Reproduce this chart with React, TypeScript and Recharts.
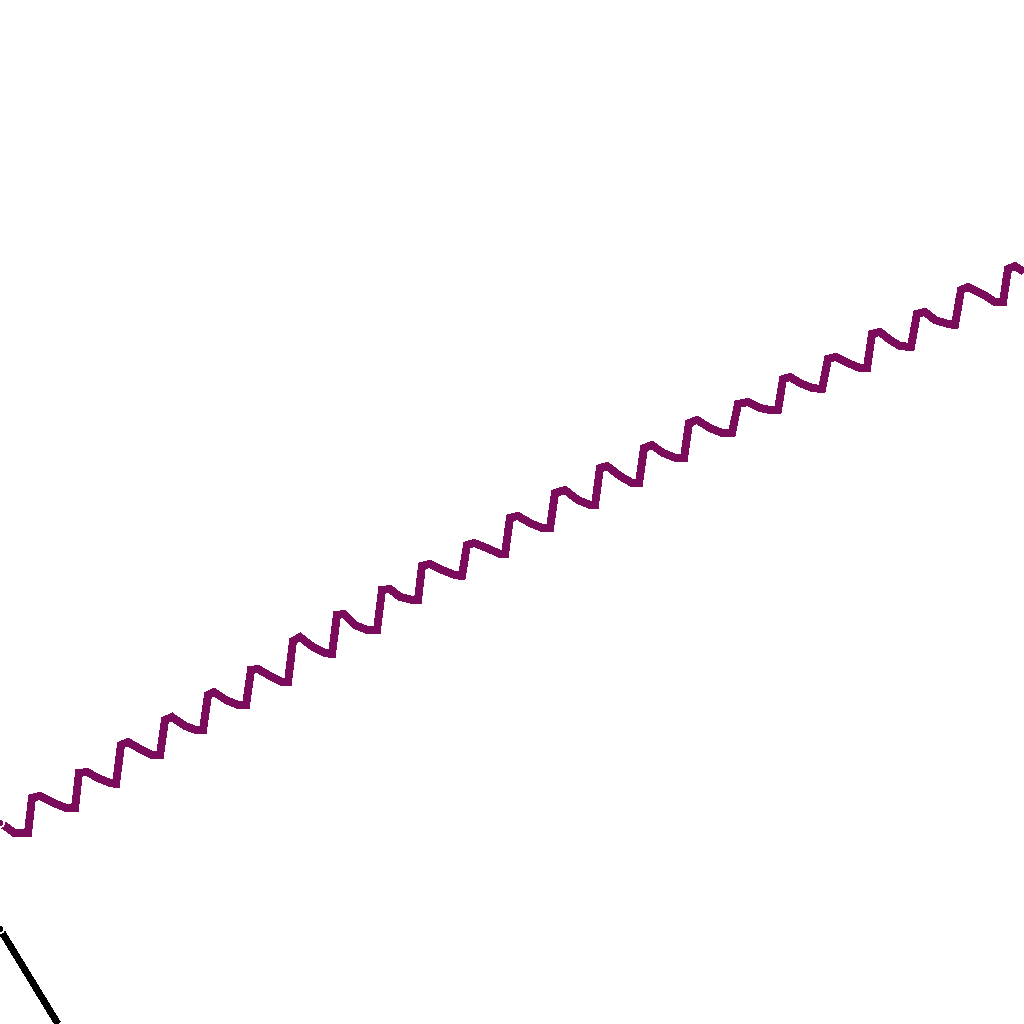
import { LineChart, Line, XAxis, YAxis } from 'recharts';

// purple wave: x position and depth from the top edge (0..1024 each way)
const waveX = [
  0, 8, 14, 28,
  32, 40, 54, 66, 75,
  79, 87, 98, 110, 116,
  121, 128, 140, 152, 160,
  165, 172, 185, 196, 203,
  208, 214, 226, 238, 246,
  251, 258, 270, 282, 288,
  293, 300, 313, 325, 332,
  337, 344, 355, 367, 377,
  382, 390, 400, 412, 418,
  422, 430, 442, 455, 462,
  467, 474, 487, 500, 505,
  510, 518, 530, 542, 550,
  555, 565, 578, 590, 595,
  600, 607, 620, 632, 639,
  644, 652, 663, 676, 684,
  689, 697, 710, 722, 732,
  738, 748, 760, 770, 778,
  783, 790, 800, 812, 822,
  828, 836, 850, 860, 867,
  872, 880, 890, 900, 911,
  917, 925, 935, 948, 955,
  961, 968, 984, 995, 1003,
  1008, 1015, 1024,
];
const waveDepth = [
  823, 828, 833, 833,
  798, 796, 803, 808, 808,
  773, 772, 778, 783, 784,
  745, 742, 749, 755, 755,
  720, 717, 726, 730, 730,
  695, 692, 700, 705, 705,
  670, 669, 676, 682, 682,
  641, 637, 647, 653, 654,
  615, 614, 625, 630, 630,
  590, 589, 597, 600, 600,
  566, 564, 570, 575, 576,
  545, 543, 548, 554, 554,
  518, 516, 523, 528, 528,
  493, 490, 500, 505, 505,
  468, 466, 476, 483, 483,
  448, 445, 453, 458, 458,
  423, 420, 428, 433, 433,
  404, 402, 408, 410, 410,
  379, 377, 383, 388, 389,
  359, 357, 364, 368, 368,
  334, 332, 340, 346, 347,
  314, 312, 320, 324, 325,
  290, 287, 295, 302, 302,
  269, 266, 272,
];

// black segment in the lower-left corner
const edgeX = [0, 58];
const edgeDepth = [929, 1024];

const wave = waveX.map((x, i) => ({ x, y: 1024 - waveDepth[i] }));
const edge = edgeX.map((x, i) => ({ x, y: 1024 - edgeDepth[i] }));

export default function App() {
  return (
    <div style={{ position: 'absolute', left: 0, top: 0, width: 1024, height: 1024, background: '#fff' }}>
      <LineChart
        width={1024}
        height={1024}
        margin={{ top: 0, right: 0, bottom: 0, left: 0 }}
        style={{ shapeRendering: 'crispEdges' }}
      >
        <XAxis dataKey="x" type="number" domain={[0, 1024]} hide />
        <YAxis type="number" domain={[0, 1024]} hide />
        <Line
          data={wave}
          dataKey="y"
          type="linear"
          stroke="#7b0b5b"
          strokeWidth={8}
          strokeLinejoin="miter"
          dot={false}
          isAnimationActive={false}
        />
        <Line
          data={edge}
          dataKey="y"
          type="linear"
          stroke="#000"
          strokeWidth={7}
          dot={false}
          isAnimationActive={false}
        />
      </LineChart>
    </div>
  );
}
